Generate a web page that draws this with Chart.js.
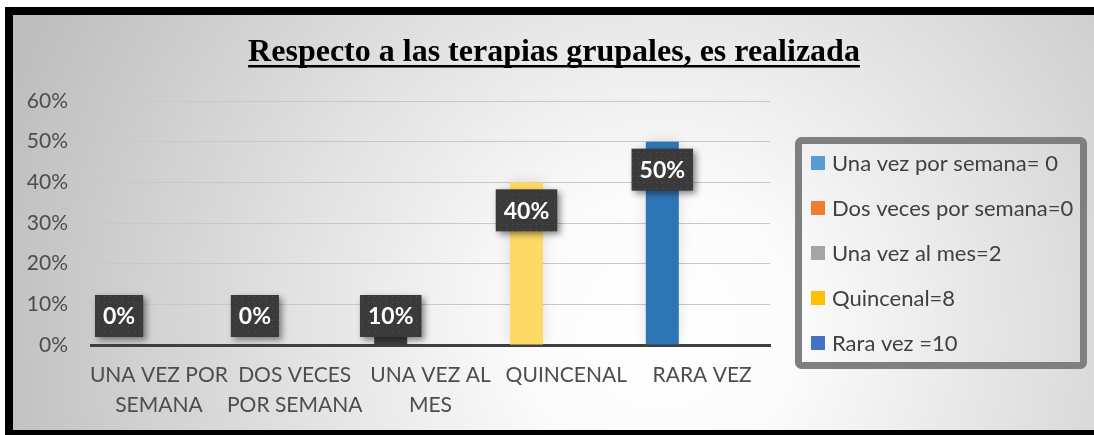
<!DOCTYPE html>
<html><head><meta charset="utf-8">
<script src="https://cdn.jsdelivr.net/npm/chart.js@4.4.0/dist/chart.umd.min.js"></script>
<style>html,body{margin:0;padding:0;background:#fff}#wrap{width:1094px;height:435px;position:relative}</style>
</head><body><div id="wrap"><canvas id="c"></canvas></div>
<script>
/* datos del gráfico */
const titulo = 'Respecto a las terapias grupales, es realizada';
const categorias = [['UNA VEZ POR', 'SEMANA'], ['DOS VECES', 'POR SEMANA'], ['UNA VEZ AL', 'MES'], 'QUINCENAL', 'RARA VEZ'];
const porcentajes = [0, 0, 10, 40, 50];
const coloresBarra = ['#5b9bd5', '#ed7d31', '#404040', '#ffd966', '#2e75b6'];
const leyenda = ['Una vez por semana= 0', 'Dos veces por semana=0', 'Una vez al mes=2', 'Quincenal=8', 'Rara vez =10'];
const coloresLeyenda = ['#5b9bd5', '#ed7d31', '#a5a5a5', '#ffc000', '#4472c4'];
const yMax = 60, yPaso = 10;

const FUENTE = 'Lato, "Noto Sans", sans-serif';

/* fondo degradado + marco negro */
const fondo = {
  id: 'fondo',
  beforeDraw(ch) {
    const c = ch.ctx, W = ch.width;
    c.save();
    c.fillStyle = '#fff'; c.fillRect(0, 0, W, ch.height);
    const g = c.createRadialGradient(660, 330, 0, 660, 330, 700);
    g.addColorStop(0, '#ffffff'); g.addColorStop(0.2, '#fbfbfb'); g.addColorStop(1, '#bdbdbd');
    c.fillStyle = g; c.fillRect(13, 15, W - 13, 415);
    c.fillStyle = '#000';
    c.fillRect(5, 7, W, 8); c.fillRect(5, 7, 8, 428); c.fillRect(5, 430, W, 5);
    c.restore();
  },
  beforeDatasetsDraw(ch) { ch.ctx.save(); ch.ctx.shadowColor = 'rgba(0,0,0,0.13)'; ch.ctx.shadowBlur = 14; },
  afterDatasetsDraw(ch) { ch.ctx.restore(); },
};

/* título subrayado */
const tituloSub = {
  id: 'tituloSub',
  afterDraw(ch) {
    const c = ch.ctx;
    c.save();
    c.font = 'bold 32px "Liberation Serif", "Times New Roman", serif';
    c.fillStyle = '#000'; c.textAlign = 'center'; c.textBaseline = 'alphabetic';
    c.fillText(titulo, 554, 61);
    const w = c.measureText(titulo).width;
    c.fillRect(554 - w / 2, 65, w, 2.5);
    c.restore();
  },
};

/* leyenda con marco gris */
const leyendaCaja = {
  id: 'leyendaCaja',
  afterDraw(ch) {
    const c = ch.ctx;
    c.save();
    c.strokeStyle = '#7f7f7f'; c.lineWidth = 7; c.lineJoin = 'round';
    c.beginPath(); c.roundRect(798.5, 140.5, 285, 225, 3); c.stroke();
    c.font = '22px ' + FUENTE; c.textBaseline = 'middle'; c.textAlign = 'left';
    leyenda.forEach((t, i) => {
      const y = 163 + i * 45;
      c.fillStyle = coloresLeyenda[i]; c.fillRect(811, y - 7, 14, 14);
      c.fillStyle = '#404040'; c.fillText(t, 832, y + 1);
    });
    c.restore();
  },
};

/* etiquetas de datos: caja oscura punteada con sombra */
function patron() {
  const p = document.createElement('canvas'); p.width = 6; p.height = 6;
  const x = p.getContext('2d');
  x.fillStyle = '#3a3a3a'; x.fillRect(0, 0, 6, 6);
  x.fillStyle = '#545454'; x.fillRect(2, 2, 1, 1);
  return p;
}
const etiquetas = {
  id: 'etiquetas',
  afterDatasetsDraw(ch) {
    const c = ch.ctx, base = ch.scales.y.getPixelForValue(0);
    const pat = c.createPattern(patron(), 'repeat');
    c.save();
    c.font = 'bold 23px ' + FUENTE;
    ch.getDatasetMeta(0).data.forEach((bar, i) => {
      const txt = porcentajes[i] + '%';
      const w = c.measureText(txt).width + 16, h = 42;
      const cy = Math.min(bar.y + 28, base - 29);
      c.save();
      c.shadowColor = 'rgba(0,0,0,0.45)'; c.shadowBlur = 6; c.shadowOffsetX = 3; c.shadowOffsetY = 3;
      c.fillStyle = pat; c.fillRect(bar.x - w / 2, cy - h / 2, w, h);
      c.restore();
      c.fillStyle = '#fff'; c.textAlign = 'center'; c.textBaseline = 'middle';
      c.fillText(txt, bar.x, cy + 1);
    });
    c.restore();
  },
};

new Chart(document.getElementById('c'), {
  type: 'bar',
  data: {
    labels: categorias,
    datasets: [{
      data: porcentajes.map((v, i) => ({ x: i, y: v })),
      xAxisID: 'xb',
      backgroundColor: coloresBarra,
      barThickness: 33,
      inflateAmount: 0,
    }],
  },
  options: {
    responsive: true, maintainAspectRatio: false, animation: false,
    layout: { padding: { top: 101, right: 324, bottom: 0, left: 0 } },
    plugins: { legend: { display: false }, tooltip: { enabled: false } },
    scales: {
      x: {
        type: 'category', offset: true,
        grid: { display: false, drawTicks: false },
        border: { color: '#404040', width: 3 },
        ticks: { color: '#4d4d4d', font: { family: FUENTE, size: 21, lineHeight: 1.4 }, padding: 16, maxRotation: 0, autoSkip: false },
        afterFit: s => { s.height = 90; },
      },
      xb: { type: 'linear', display: false, offset: false, min: -0.207, max: 4.793, grid: { display: false } },
      y: {
        min: 0, max: yMax,
        grid: { color: '#c8c8c8', lineWidth: 1, drawTicks: false },
        border: { display: false },
        ticks: { stepSize: yPaso, color: '#4d4d4d', font: { family: FUENTE, size: 21 }, padding: 23, callback: v => v + '%' },
        afterFit: s => { s.width = 91; },
      },
    },
  },
  plugins: [fondo, tituloSub, leyendaCaja, etiquetas],
});
</script>
</body></html>
